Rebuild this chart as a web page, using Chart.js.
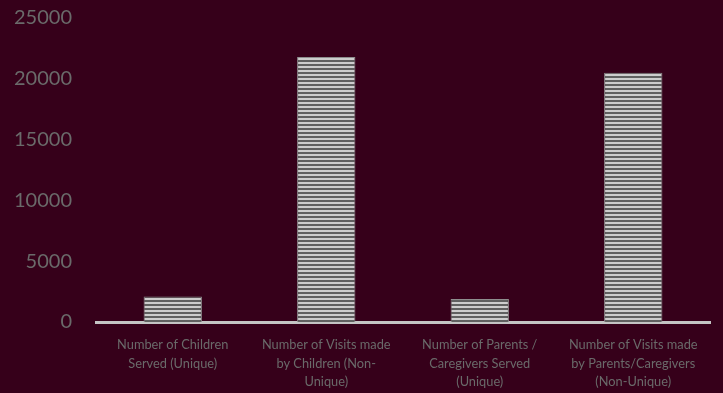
<!DOCTYPE html>
<html lang="en">
<head>
<meta charset="UTF-8">
<title>Visits</title>
<script src="https://cdn.jsdelivr.net/npm/chart.js"></script>
<style>
  html, body { margin: 0; padding: 0; background: #36001a; overflow: hidden; }
  .wrap { position: relative; top: -18px; width: 723px; height: 411px; }
</style>
</head>
<body>
<div class="wrap"><canvas id="grafico"></canvas></div>
<script>
  const categorias = [
    ["Number of Children", "Served (Unique)"],
    ["Number of Visits made", "by Children (Non-", "Unique)"],
    ["Number of Parents /", "Caregivers Served", "(Unique)"],
    ["Number of Visits made", "by Parents/Caregivers", "(Non-Unique)"]
  ];
  const valores = [2090, 21800, 1900, 20500];
  const ticksY = [0, 5000, 10000, 15000, 20000, 25000];

  // striped fill for the bars
  function listras() {
    const c = document.createElement('canvas');
    c.width = 4; c.height = 4;
    const g = c.getContext('2d');
    g.fillStyle = '#cdcdcd';
    g.fillRect(0, 0, 4, 2);
    g.fillStyle = '#606060';
    g.fillRect(0, 2, 4, 2);
    return g.createPattern(c, 'repeat');
  }

  const ctx = document.getElementById('grafico').getContext('2d');
  const padrao = listras();

  new Chart(ctx, {
    type: 'bar',
    data: {
      labels: categorias,
      datasets: [{
        data: valores,
        backgroundColor: padrao,
        borderColor: '#8e8e8e',
        borderWidth: { left: 1, right: 1, top: 1, bottom: 0 },
        barPercentage: 0.38,
        categoryPercentage: 1
      }]
    },
    options: {
      responsive: true,
      maintainAspectRatio: false,
      animation: false,
      layout: { padding: { right: 13 } },
      plugins: { legend: { display: false }, tooltip: { enabled: false } },
      scales: {
        y: {
          min: 0,
          max: 25000,
          afterBuildTicks: s => { s.ticks = ticksY.map(v => ({ value: v })); },
          afterFit: s => { s.width = 96; },
          grid: { display: false, drawTicks: false },
          border: { display: false },
          ticks: {
            color: '#6a6a6a',
            padding: 24,
            callback: v => String(v),
            font: { family: 'Lato', size: 20 }
          }
        },
        x: {
          afterFit: s => { s.height = 71; },
          grid: { display: false, drawTicks: false },
          border: { display: true, color: '#c4c4c4', width: 3 },
          ticks: {
            color: '#6a6a6a',
            padding: 13,
            maxRotation: 0,
            autoSkip: false,
            font: { family: 'Lato', size: 12.8, lineHeight: 1.48 }
          }
        }
      }
    }
  });
</script>
</body>
</html>
